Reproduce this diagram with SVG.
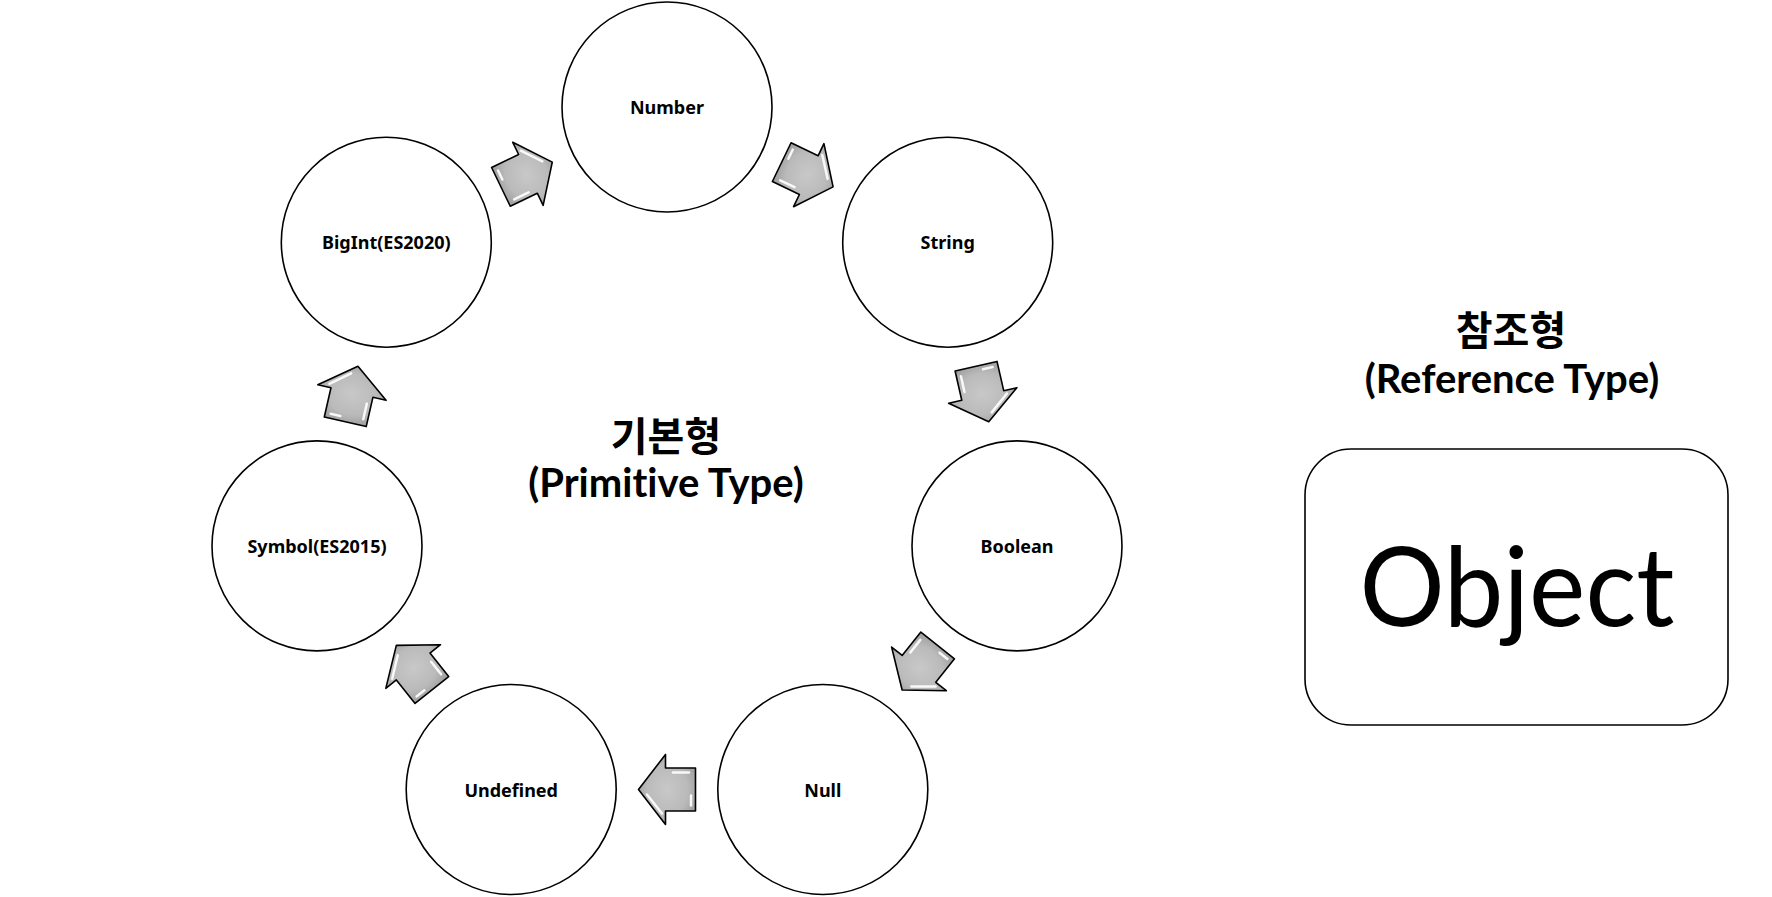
<svg xmlns="http://www.w3.org/2000/svg" width="1772" height="897" viewBox="0 0 1772 897">
<style>
.node{fill:#fff;stroke:#000;stroke-width:1.6}
.lbl{font-family:"Noto Sans","Liberation Sans",sans-serif;font-weight:bold;font-size:18px;fill:#000;text-anchor:middle}
.ttlk{font-family:"Noto Sans CJK KR","Noto Sans",sans-serif;font-weight:bold;font-size:40px;fill:#000;text-anchor:middle}
.ttl{font-family:Lato,"Noto Sans",sans-serif;font-weight:bold;font-size:40px;fill:#000;text-anchor:middle;font-variant-ligatures:none}
.obj{font-family:Lato,"Noto Sans",sans-serif;font-size:111px;fill:#000;text-anchor:middle}
.hl{fill:none;stroke:#fff;stroke-width:2.5;stroke-linecap:round;opacity:0.9}
</style>
<defs>
<radialGradient id="ag" cx="0.5" cy="0.5" r="0.6">
<stop offset="0" stop-color="#c8c8c8"/>
<stop offset="0.6" stop-color="#bababa"/>
<stop offset="1" stop-color="#9a9a9a"/>
</radialGradient>
<g id="arr">
<path d="M -28.5,-21.5 L 1.5,-21.5 L 1.5,-35 L 28.5,0 L 1.5,35 L 1.5,21.5 L -28.5,21.5 Z" fill="url(#ag)" stroke="#000" stroke-width="1.6" stroke-linejoin="round"/>
<path class="hl" d="M 5,-24 L 20,-5"/>
<path class="hl" d="M -24,-16 L -24,-6" opacity="0.6"/>
<path class="hl" d="M -22,17 L -6,17" opacity="0.7"/>
</g>
</defs>
<rect width="1772" height="897" fill="#fff"/>
<g id="connectors">
<use href="#arr" transform="translate(807.4,174.5) rotate(25.71)"/>
<use href="#arr" transform="translate(982.4,394) rotate(77.14)"/>
<use href="#arr" transform="translate(919.9,667.7) rotate(128.57)"/>
<use href="#arr" transform="translate(667,789.5) rotate(180)"/>
<use href="#arr" transform="translate(414.1,667.7) rotate(231.43)"/>
<use href="#arr" transform="translate(351.6,394) rotate(282.86)"/>
<use href="#arr" transform="translate(526.6,174.5) rotate(334.29)"/>
</g>
<g id="number"><circle class="node" cx="667" cy="107" r="105"/><text class="lbl" x="667" y="114">Number</text></g>
<g id="string"><circle class="node" cx="947.7" cy="242.2" r="105"/><text class="lbl" x="947.7" y="249">String</text></g>
<g id="boolean"><circle class="node" cx="1017" cy="545.9" r="105"/><text class="lbl" x="1017" y="553">Boolean</text></g>
<g id="null"><circle class="node" cx="822.8" cy="789.5" r="105"/><text class="lbl" x="822.8" y="796.5">Null</text></g>
<g id="undefined"><circle class="node" cx="511.2" cy="789.5" r="105"/><text class="lbl" x="511.2" y="796.5">Undefined</text></g>
<g id="symbol"><circle class="node" cx="317" cy="545.9" r="105"/><text class="lbl" x="317" y="553">Symbol(ES2015)</text></g>
<g id="bigint"><circle class="node" cx="386.3" cy="242.2" r="105"/><text class="lbl" x="386.3" y="249">BigInt(ES2020)</text></g>
<g id="primitive-title">
<text class="ttlk" x="666" y="451">기본형</text>
<text class="ttl" x="666" y="497">(Primitive Type)</text>
</g>
<g id="reference-title">
<text class="ttlk" x="1511" y="345">참조형</text>
<text class="ttl" x="1512" y="393">(Reference Type)</text>
</g>
<g id="object">
<rect x="1305" y="449" width="423" height="276" rx="46" ry="46" fill="#fff" stroke="#000" stroke-width="1.6"/>
<text class="obj" x="1517" y="626" textLength="315" lengthAdjust="spacingAndGlyphs">Object</text>
</g>
</svg>
